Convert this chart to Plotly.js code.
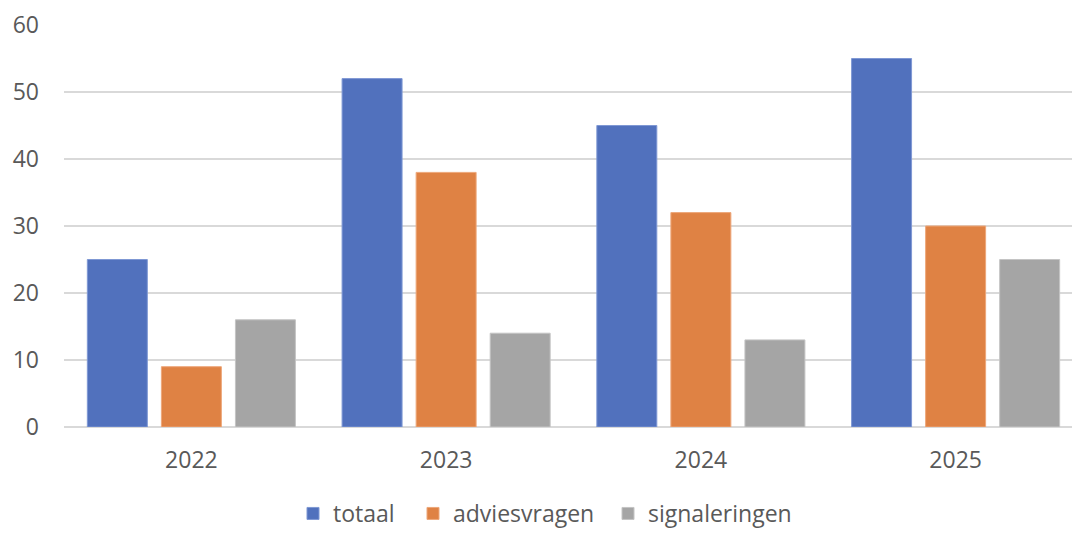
<!DOCTYPE html>
<html>
<head>
<meta charset="utf-8">
<script src="https://cdn.plot.ly/plotly-3.0.1.min.js"></script>
<style>
html, body { margin: 0; padding: 0; overflow: hidden; background: #fff; }
#chart { width: 1090px; height: 535px; }
</style>
</head>
<body>
<div id="chart"></div>
<script>
const years = ['2022', '2023', '2024', '2025'];
const seriesNames = ['totaal', 'adviesvragen', 'signaleringen'];
const totaal = [25, 52, 45, 55];
const adviesvragen = [9, 38, 32, 30];
const signaleringen = [16, 14, 13, 25];
const yTicks = [0, 10, 20, 30, 40, 50, 60];

const colors = ['#5171BD', '#DF8244', '#A5A5A5'];
const borders = ['#7F98D4', '#EDA77A', '#C4C4C4'];
const values = [totaal, adviesvragen, signaleringen];
const legendIds = ['legend', 'legend2', 'legend3'];
const legendLeft = [293, 413, 608];

const traces = values.map((v, i) => ({
  type: 'bar',
  name: seriesNames[i],
  x: years,
  y: v,
  legend: legendIds[i],
  marker: { color: colors[i], line: { color: borders[i], width: 1 } },
  hoverinfo: 'x+y+name'
}));

const font = { family: '"Open Sans", "Liberation Sans", sans-serif', size: 23, color: '#595959' };

const W = 1090, H = 535;

const layout = {
  width: W,
  height: H,
  margin: { l: 64, r: 7, t: 25, b: 108, pad: 0, autoexpand: false },
  paper_bgcolor: '#ffffff',
  plot_bgcolor: '#ffffff',
  font: font,
  barmode: 'group',
  bargap: 0.128,
  bargroupgap: 0.19,
  showlegend: true,
  xaxis: {
    type: 'category',
    tickfont: font,
    showgrid: false,
    showline: false,
    zeroline: false,
    ticks: '',
    automargin: false,
    ticklabelstandoff: 17
  },
  yaxis: {
    range: [0, 60],
    tickvals: yTicks,
    ticktext: yTicks.map(String),
    tickfont: font,
    showgrid: true,
    gridcolor: '#D9D9D9',
    gridwidth: 1.5,
    zeroline: true,
    zerolinecolor: '#D9D9D9',
    zerolinewidth: 1.5,
    showline: false,
    ticks: '',
    automargin: false,
    ticklabelstandoff: 24
  }
};

legendIds.forEach((id, i) => {
  layout[id] = {
    orientation: 'h',
    xref: 'container',
    yref: 'container',
    x: legendLeft[i] / W,
    xanchor: 'left',
    y: -0.006,
    yanchor: 'bottom',
    font: font,
    bgcolor: 'rgba(0,0,0,0)'
  };
});

Plotly.newPlot('chart', traces, layout, { displayModeBar: false, staticPlot: true });
</script>
</body>
</html>
